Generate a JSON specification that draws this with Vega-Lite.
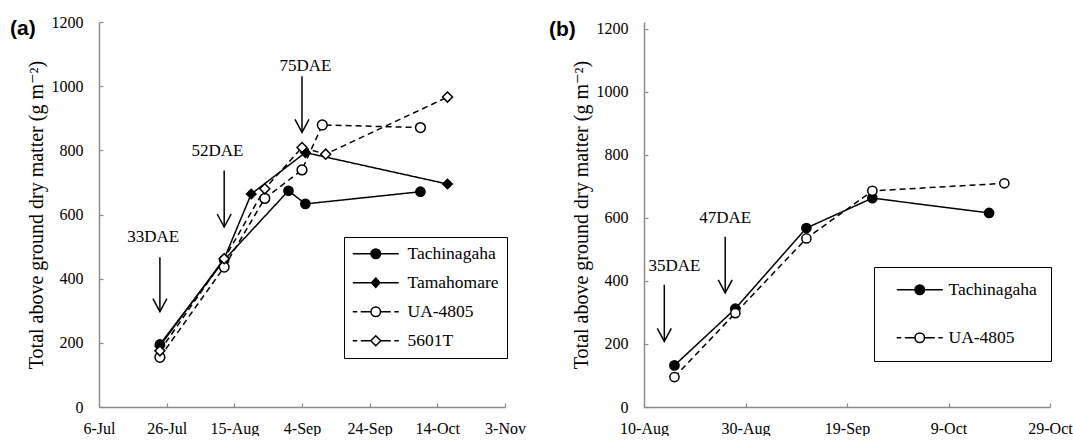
{
  "$schema": "https://vega.github.io/schema/vega-lite/v6.json",
  "background": "white",
  "padding": {"left": 10, "top": 14, "right": 0, "bottom": 0},
  "spacing": 23,
  "datasets": {
    "a": [
      {"variety": "Tachinagaha", "date": "2013/07/24", "dm": 195},
      {"variety": "Tachinagaha", "date": "2013/08/12", "dm": 458},
      {"variety": "Tachinagaha", "date": "2013/08/31", "dm": 674},
      {"variety": "Tachinagaha", "date": "2013/09/05", "dm": 633},
      {"variety": "Tachinagaha", "date": "2013/10/09", "dm": 671},
      {"variety": "Tamahomare", "date": "2013/07/24", "dm": 190},
      {"variety": "Tamahomare", "date": "2013/08/12", "dm": 462},
      {"variety": "Tamahomare", "date": "2013/08/20", "dm": 664},
      {"variety": "Tamahomare", "date": "2013/09/05", "dm": 793},
      {"variety": "Tamahomare", "date": "2013/10/17", "dm": 695},
      {"variety": "UA-4805", "date": "2013/07/24", "dm": 155},
      {"variety": "UA-4805", "date": "2013/08/12", "dm": 436},
      {"variety": "UA-4805", "date": "2013/08/24", "dm": 650},
      {"variety": "UA-4805", "date": "2013/09/04", "dm": 739},
      {"variety": "UA-4805", "date": "2013/09/10", "dm": 879},
      {"variety": "UA-4805", "date": "2013/10/09", "dm": 871},
      {"variety": "5601T", "date": "2013/07/24", "dm": 175},
      {"variety": "5601T", "date": "2013/08/12", "dm": 462},
      {"variety": "5601T", "date": "2013/08/24", "dm": 680},
      {"variety": "5601T", "date": "2013/09/04", "dm": 809},
      {"variety": "5601T", "date": "2013/09/11", "dm": 788},
      {"variety": "5601T", "date": "2013/10/17", "dm": 966}
    ],
    "b": [
      {"variety": "Tachinagaha", "date": "2013/08/16", "dm": 132},
      {"variety": "Tachinagaha", "date": "2013/08/28", "dm": 312},
      {"variety": "Tachinagaha", "date": "2013/09/11", "dm": 568},
      {"variety": "Tachinagaha", "date": "2013/09/24", "dm": 663},
      {"variety": "Tachinagaha", "date": "2013/10/17", "dm": 616},
      {"variety": "UA-4805", "date": "2013/08/16", "dm": 95},
      {"variety": "UA-4805", "date": "2013/08/28", "dm": 298},
      {"variety": "UA-4805", "date": "2013/09/11", "dm": 535},
      {"variety": "UA-4805", "date": "2013/09/24", "dm": 686},
      {"variety": "UA-4805", "date": "2013/10/20", "dm": 710}
    ],
    "arrowsA": [
      {"label": "33DAE", "date": "2013/07/24", "top": 467, "bottom": 297, "labelDate": "2013/07/22", "labelY": 530},
      {"label": "52DAE", "date": "2013/08/12", "top": 737, "bottom": 561, "labelDate": "2013/08/10", "labelY": 797},
      {"label": "75DAE", "date": "2013/09/04", "top": 1031, "bottom": 856, "labelDate": "2013/09/05", "labelY": 1062}
    ],
    "arrowsB": [
      {"label": "35DAE", "date": "2013/08/14", "top": 388, "bottom": 208, "labelDate": "2013/08/16", "labelY": 446},
      {"label": "47DAE", "date": "2013/08/26", "top": 540, "bottom": 362, "labelDate": "2013/08/26", "labelY": 600}
    ]
  },
  "hconcat": [
    {
      "width": 406,
      "height": 385,
      "title": {"text": "(a)", "anchor": "start", "frame": "group", "font": "Liberation Sans", "fontWeight": "bold", "fontSize": 21, "color": "black", "dx": -89, "dy": 25, "offset": 0, "baseline": "top"},
      "resolve": {"scale": {"shape": "independent", "fill": "independent", "stroke": "independent"}},
      "layer": [
        {
          "data": {"name": "a"},
          "mark": {"type": "line", "color": "black", "strokeWidth": 1.5},
          "encoding": {
            "x": {"field": "date", "type": "temporal",
              "scale": {"domain": [{"year": 2013, "month": 7, "date": 6}, {"year": 2013, "month": 11, "date": 3}]},
              "axis": {"title": null, "format": "%-d-%b", "labelPadding": 17, "labelFlush": false,
                "values": [{"year": 2013, "month": 7, "date": 6}, {"year": 2013, "month": 7, "date": 26}, {"year": 2013, "month": 8, "date": 15}, {"year": 2013, "month": 9, "date": 4}, {"year": 2013, "month": 9, "date": 24}, {"year": 2013, "month": 10, "date": 14}, {"year": 2013, "month": 11, "date": 3}]}},
            "y": {"field": "dm", "type": "quantitative",
              "scale": {"domain": [0, 1200], "nice": false},
              "axis": {"title": "Total above ground dry matter (g m⁻²)", "format": "d", "values": [0, 200, 400, 600, 800, 1000, 1200], "labelPadding": 20, "titlePadding": 5}},
            "detail": {"field": "variety"},
            "strokeDash": {"field": "variety", "type": "nominal", "legend": null,
              "scale": {"domain": ["Tachinagaha", "Tamahomare", "UA-4805", "5601T"], "range": [[1, 0], [1, 0], [6, 4], [6, 4]]}}
          }
        },
        {
          "data": {"name": "a"},
          "mark": {"type": "point", "filled": true, "stroke": "black", "strokeWidth": 1.5, "opacity": 1},
          "encoding": {
            "x": {"field": "date", "type": "temporal"},
            "y": {"field": "dm", "type": "quantitative"},
            "shape": {"field": "variety", "type": "nominal", "legend": null,
              "scale": {"domain": ["Tachinagaha", "Tamahomare", "UA-4805", "5601T"], "range": ["circle", "diamond", "circle", "diamond"]}},
            "fill": {"field": "variety", "type": "nominal", "legend": null,
              "scale": {"domain": ["Tachinagaha", "Tamahomare", "UA-4805", "5601T"], "range": ["black", "black", "white", "white"]}},
            "size": {"field": "variety", "type": "nominal", "legend": null,
              "scale": {"domain": ["Tachinagaha", "Tamahomare", "UA-4805", "5601T"], "range": [85, 100, 85, 150]}}
          }
        },
        {
          "data": {"name": "a"},
          "transform": [{"filter": "false"}],
          "mark": {"type": "point", "filled": true, "strokeWidth": 1.5, "opacity": 1},
          "encoding": {
            "x": {"field": "date", "type": "temporal"},
            "y": {"field": "dm", "type": "quantitative"},
            "shape": {"field": "variety", "type": "nominal",
              "scale": {"domain": ["Tachinagaha", "Tamahomare", "UA-4805", "5601T"],
                "range": [
                  "M -4.6 0 L 4.6 0 M 0.95 0 A 0.95 0.95 0 1 1 -0.95 0 A 0.95 0.95 0 1 1 0.95 0 Z",
                  "M -4.6 0 L 4.6 0 M 0 -0.95 L 0.85 0 L 0 0.95 L -0.85 0 Z",
                  "M -4.6 0 L -3.7 0 M -3.0 0 L -0.95 0 M 0.95 0 L 3.0 0 M 3.7 0 L 4.6 0 M 0.95 0 A 0.95 0.95 0 1 1 -0.95 0 A 0.95 0.95 0 1 1 0.95 0 Z",
                  "M -4.6 0 L -3.7 0 M -3.0 0 L -1 0 M 1 0 L 3.0 0 M 3.7 0 L 4.6 0 M 0 -1 L 1 0 L 0 1 L -1 0 Z"]},
              "legend": {"title": null, "orient": "none", "legendX": 245, "legendY": 215, "strokeColor": "black", "fillColor": "white", "padding": 8, "symbolSize": 100, "symbolOffset": 15, "labelOffset": 23, "rowPadding": 10, "labelFont": "Liberation Serif, Times New Roman, DejaVu Serif, serif", "labelFontSize": 17.5, "labelColor": "black", "symbolStrokeWidth": 1.5, "symbolOpacity": 1, "labelLimit": 200,
                "encode": {"symbols": {"stroke": {"value": "black"}, "strokeWidth": {"value": 1.5}, "strokeOpacity": {"value": 1}}}}},
            "fill": {"field": "variety", "type": "nominal",
              "scale": {"domain": ["Tachinagaha", "Tamahomare", "UA-4805", "5601T"], "range": ["black", "black", "white", "white"]}},
            "stroke": {"field": "variety", "type": "nominal",
              "scale": {"domain": ["Tachinagaha", "Tamahomare", "UA-4805", "5601T"], "range": ["black", "black", "black", "black"]}}
          }
        },
        {
          "data": {"name": "arrowsA"},
          "mark": {"type": "rule", "color": "black", "strokeWidth": 1.5},
          "encoding": {
            "x": {"field": "date", "type": "temporal"},
            "y": {"field": "top", "type": "quantitative"},
            "y2": {"field": "bottom"}
          }
        },
        {
          "data": {"name": "arrowsA"},
          "mark": {"type": "point", "shape": "M -1 -1.86 L 0 0 L 1 -1.86", "filled": false, "stroke": "black", "strokeWidth": 1.5, "size": 196, "opacity": 1},
          "encoding": {
            "x": {"field": "date", "type": "temporal"},
            "y": {"field": "bottom", "type": "quantitative"}
          }
        },
        {
          "data": {"name": "arrowsA"},
          "mark": {"type": "text", "font": "Liberation Serif, Times New Roman, DejaVu Serif, serif", "fontSize": 17, "color": "black", "align": "center", "baseline": "middle"},
          "encoding": {
            "x": {"field": "labelDate", "type": "temporal"},
            "y": {"field": "labelY", "type": "quantitative"},
            "text": {"field": "label"}
          }
        }
      ]
    },
    {
      "width": 406,
      "height": 385,
      "title": {"text": "(b)", "anchor": "start", "frame": "group", "font": "Liberation Sans", "fontWeight": "bold", "fontSize": 21, "color": "black", "dx": -95, "dy": 19, "offset": 0, "baseline": "top"},
      "resolve": {"scale": {"shape": "independent", "fill": "independent", "stroke": "independent"}},
      "layer": [
        {
          "data": {"name": "b"},
          "mark": {"type": "line", "color": "black", "strokeWidth": 1.5},
          "encoding": {
            "x": {"field": "date", "type": "temporal",
              "scale": {"domain": [{"year": 2013, "month": 8, "date": 10}, {"year": 2013, "month": 10, "date": 29}]},
              "axis": {"title": null, "format": "%-d-%b", "labelPadding": 17, "labelFlush": false,
                "values": [{"year": 2013, "month": 8, "date": 10}, {"year": 2013, "month": 8, "date": 30}, {"year": 2013, "month": 9, "date": 19}, {"year": 2013, "month": 10, "date": 9}, {"year": 2013, "month": 10, "date": 29}]}},
            "y": {"field": "dm", "type": "quantitative",
              "scale": {"domain": [0, 1222], "nice": false},
              "axis": {"title": "Total above ground dry matter (g m⁻²)", "format": "d", "values": [0, 200, 400, 600, 800, 1000, 1200], "labelPadding": 20, "titlePadding": 5}},
            "detail": {"field": "variety"},
            "strokeDash": {"field": "variety", "type": "nominal", "legend": null,
              "scale": {"domain": ["Tachinagaha", "UA-4805"], "range": [[1, 0], [6, 4]]}}
          }
        },
        {
          "data": {"name": "b"},
          "mark": {"type": "point", "filled": true, "stroke": "black", "strokeWidth": 1.5, "opacity": 1, "size": 85},
          "encoding": {
            "x": {"field": "date", "type": "temporal"},
            "y": {"field": "dm", "type": "quantitative"},
            "fill": {"field": "variety", "type": "nominal", "legend": null,
              "scale": {"domain": ["Tachinagaha", "UA-4805"], "range": ["black", "white"]}},
            "shape": {"field": "variety", "type": "nominal", "legend": null,
              "scale": {"domain": ["Tachinagaha", "UA-4805"], "range": ["circle", "circle"]}}
          }
        },
        {
          "data": {"name": "b"},
          "transform": [{"filter": "false"}],
          "mark": {"type": "point", "filled": true, "strokeWidth": 1.5, "opacity": 1},
          "encoding": {
            "x": {"field": "date", "type": "temporal"},
            "y": {"field": "dm", "type": "quantitative"},
            "shape": {"field": "variety", "type": "nominal",
              "scale": {"domain": ["Tachinagaha", "UA-4805"],
                "range": [
                  "M -4.6 0 L 4.6 0 M 0.95 0 A 0.95 0.95 0 1 1 -0.95 0 A 0.95 0.95 0 1 1 0.95 0 Z",
                  "M -4.6 0 L -3.7 0 M -3.0 0 L -0.95 0 M 0.95 0 L 3.0 0 M 3.7 0 L 4.6 0 M 0.95 0 A 0.95 0.95 0 1 1 -0.95 0 A 0.95 0.95 0 1 1 0.95 0 Z"]},
              "legend": {"title": null, "orient": "none", "legendX": 230, "legendY": 245, "strokeColor": "black", "fillColor": "white", "padding": 14, "symbolSize": 100, "symbolOffset": 23, "labelOffset": 20, "rowPadding": 29, "labelFont": "Liberation Serif, Times New Roman, DejaVu Serif, serif", "labelFontSize": 17.5, "labelColor": "black", "symbolStrokeWidth": 1.5, "symbolOpacity": 1, "labelLimit": 200,
                "encode": {"symbols": {"stroke": {"value": "black"}, "strokeWidth": {"value": 1.5}, "strokeOpacity": {"value": 1}}}}},
            "fill": {"field": "variety", "type": "nominal",
              "scale": {"domain": ["Tachinagaha", "UA-4805"], "range": ["black", "white"]}},
            "stroke": {"field": "variety", "type": "nominal",
              "scale": {"domain": ["Tachinagaha", "UA-4805"], "range": ["black", "black"]}}
          }
        },
        {
          "data": {"name": "arrowsB"},
          "mark": {"type": "rule", "color": "black", "strokeWidth": 1.5},
          "encoding": {
            "x": {"field": "date", "type": "temporal"},
            "y": {"field": "top", "type": "quantitative"},
            "y2": {"field": "bottom"}
          }
        },
        {
          "data": {"name": "arrowsB"},
          "mark": {"type": "point", "shape": "M -1 -1.86 L 0 0 L 1 -1.86", "filled": false, "stroke": "black", "strokeWidth": 1.5, "size": 196, "opacity": 1},
          "encoding": {
            "x": {"field": "date", "type": "temporal"},
            "y": {"field": "bottom", "type": "quantitative"}
          }
        },
        {
          "data": {"name": "arrowsB"},
          "mark": {"type": "text", "font": "Liberation Serif, Times New Roman, DejaVu Serif, serif", "fontSize": 17, "color": "black", "align": "center", "baseline": "middle"},
          "encoding": {
            "x": {"field": "labelDate", "type": "temporal"},
            "y": {"field": "labelY", "type": "quantitative"},
            "text": {"field": "label"}
          }
        }
      ]
    }
  ],
  "config": {
    "view": {"stroke": null},
    "font": "Liberation Serif, Times New Roman, DejaVu Serif, serif",
    "legend": {"symbolBaseStrokeColor": "black"},
    "axis": {"grid": false, "domainColor": "#8c8c8c", "domainWidth": 1.5, "tickColor": "#8c8c8c", "tickWidth": 1.2, "tickSize": -4, "labelFont": "Liberation Serif, Times New Roman, DejaVu Serif, serif", "labelFontSize": 16, "labelColor": "black", "titleFont": "Liberation Serif, Times New Roman, DejaVu Serif, serif", "titleFontSize": 20, "titleFontWeight": "normal", "titleColor": "black"}
  }
}
